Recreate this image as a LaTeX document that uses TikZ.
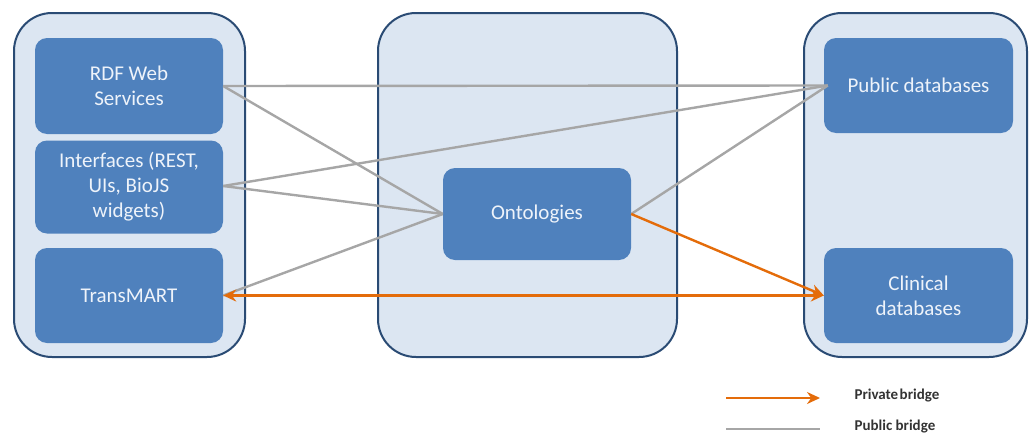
\documentclass[tikz,border=0pt]{standalone}
\usepackage{fontspec}
\setmainfont{Carlito}
\usetikzlibrary{arrows.meta}
\definecolor{panelfill}{HTML}{DCE6F2}
\definecolor{paneldraw}{HTML}{2A4B74}
\definecolor{boxfill}{HTML}{4F81BD}
\definecolor{boxtext}{HTML}{EEF3FA}
\definecolor{publine}{HTML}{A6A6A6}
\definecolor{privline}{HTML}{E46C0A}
\tikzset{
  panel/.style={draw=paneldraw, line width=2pt, fill=panelfill, rounded corners=38pt},
  unit/.style={fill=boxfill, rounded corners=12pt, minimum width=188pt, align=center,
    text=boxtext, font=\fontsize{21}{25}\selectfont, inner sep=0pt},
  pubbridge/.style={draw=publine, line width=2.4pt},
  privbridge/.style={draw=privline, line width=2.4pt, -{Stealth[length=13pt,width=12pt]}},
  legendtext/.style={anchor=west, font=\bfseries\fontsize{15}{17}\selectfont, text=black!80}
}
\begin{document}
\begin{tikzpicture}[x=1pt,y=-1pt]
\useasboundingbox (0,0) rectangle (1029,434);
% three containers
\draw[panel] (14,13) rectangle (245,357);
\draw[panel] (378,13) rectangle (677,357);
\draw[panel] (804,13) rectangle (1027,357);
% components
\node[unit, minimum height=96pt] (rdf) at (129,86) {RDF Web\\Services};
\node[unit, minimum height=93pt] (intf) at (129,187) {Interfaces (REST,\\UIs, BioJS\\widgets)};
\node[unit, minimum height=95pt] (trans) at (129,295.5) {TransMART};
\node[unit, minimum height=92pt] (ont) at (537,214) {Ontologies};
\node[unit, minimum height=95pt, minimum width=189pt] (pub) at (918.5,85.5) {Public databases};
\node[unit, minimum height=95pt, minimum width=189pt] (clin) at (918.5,295.5) {Clinical\\databases};
% public bridges
\draw[pubbridge] (rdf.east) -- ([xshift=4pt]pub.west);
\draw[pubbridge] (rdf.east) -- (ont.west);
\draw[pubbridge] ([yshift=1pt]intf.east) -- ([xshift=4pt]pub.west);
\draw[pubbridge] ([yshift=1pt]intf.east) -- (ont.west);
\draw[pubbridge] (trans.east) -- (ont.west);
\draw[pubbridge] (ont.east) -- ([xshift=4pt]pub.west);
% private bridges
\draw[privbridge] (ont.east) -- (clin.west);
\draw[privbridge, {Stealth[length=13pt,width=12pt]}-{Stealth[length=13pt,width=12pt]}] (trans.east) -- (clin.west);
% legend
\coordinate (lpa) at (726,398);
\coordinate (lpb) at (820,398);
\coordinate (lga) at (726,429);
\coordinate (lgb) at (820,429);
\draw[privbridge] (lpa) -- (lpb);
\draw[pubbridge] (lga) -- (lgb);
\node[legendtext] (lpt) at (851,396) {Private\hspace{1.5pt}bridge};
\node[legendtext] (lgt) at (851,427) {Public bridge};
\end{tikzpicture}
\end{document}
